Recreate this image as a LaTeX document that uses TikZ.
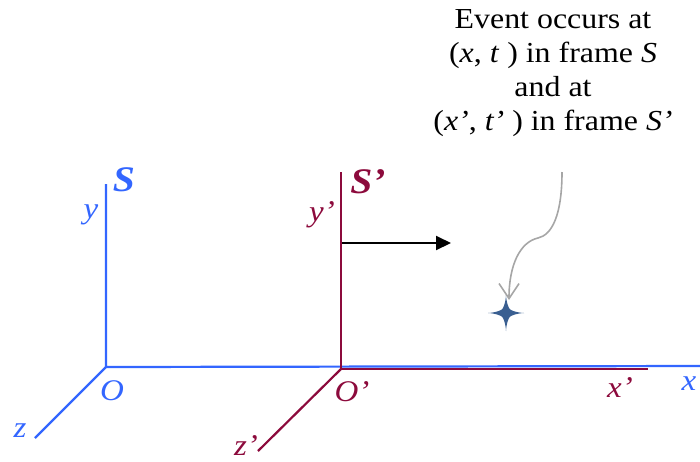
\documentclass[tikz,border=0pt]{standalone}
\usepackage{fontspec}
\setmainfont{Liberation Serif}[FakeStretch=1.1]
\usetikzlibrary{arrows.meta}
\definecolor{sblue}{RGB}{51,102,255}
\definecolor{sred}{RGB}{140,10,60}
\definecolor{starc}{RGB}{58,95,145}
\definecolor{gcurve}{RGB}{166,166,166}
\begin{document}
\begin{tikzpicture}[x=1pt,y=-1pt,
  lbl/.style={inner sep=0pt,font=\fontsize{30}{34}\selectfont\itshape},
  blbl/.style={lbl,text=sblue},
  rlbl/.style={lbl,text=sred},
  ttl/.style={inner sep=0pt,font=\fontsize{36}{40}\selectfont\bfseries\itshape},
  baxis/.style={draw=sblue,line width=2.2pt},
  raxis/.style={draw=sred,line width=2.2pt}]
\useasboundingbox (0,0) rectangle (700,461);
% S frame
\coordinate (O) at (106,367);
\coordinate (yend) at (106,184);
\coordinate (xend) at (700,366);
\coordinate (zend) at (35,438);
\draw[baxis] (yend) -- (O) -- (xend);
\draw[baxis] (O) -- (zend);
% S' frame
\coordinate (O2) at (341,369);
\coordinate (y2end) at (341,172);
\coordinate (x2end) at (648,369);
\coordinate (z2end) at (258,451);
\draw[raxis] (y2end) -- (O2) -- (x2end);
\draw[raxis] (O2) -- (z2end);
% labels
\node[ttl,text=sblue] (S) at (124,180) {S};
\node[blbl] (ylab) at (91,215) {y};
\node[blbl] (Olab) at (112,391) {O};
\node[blbl] (zlab) at (20,431) {z};
\node[blbl] (xlab) at (689,384) {x};
\node[ttl,text=sred] (S2) at (368,182) {S’};
\node[rlbl] (y2lab) at (322,215) {y’};
\node[rlbl] (O2lab) at (352,392) {O’};
\node[rlbl] (x2lab) at (620,388) {x’};
\node[rlbl] (z2lab) at (246,446) {z’};
% velocity arrow
\coordinate (va) at (342,243);
\coordinate (vb) at (451,243);
\draw[line width=2pt,-{Triangle[length=15pt,width=14pt]}] (va) -- (vb);
% event text
\node[inner sep=0pt,align=center,font=\fontsize{29}{34}\selectfont] (ev) at (553,73)
  {Event occurs at\\(\textit{x}, \textit{t} ) in frame \textit{S}\\and at\\(\textit{x’}, \textit{t’} ) in frame \textit{S’}};
% star
\node[inner sep=0pt,minimum size=0pt] (star) at (506,313) {};
\begin{scope}[shift={(star.center)}]
\fill[starc] (0,-18) .. controls (0.5,-10) and (2.3,-6) .. (3.8,-3.8)
  .. controls (6,-2.3) and (10,-0.5) .. (18,0)
  .. controls (10,0.5) and (6,2.3) .. (3.8,3.8)
  .. controls (2.3,6) and (0.5,10) .. (0,18)
  .. controls (-0.5,10) and (-2.3,6) .. (-3.8,3.8)
  .. controls (-6,2.3) and (-10,0.5) .. (-18,0)
  .. controls (-10,-0.5) and (-6,-2.3) .. (-3.8,-3.8)
  .. controls (-2.3,-6) and (-0.5,-10) .. cycle;
\end{scope}
% curved arrow
\coordinate (cstart) at (562,172);
\coordinate (ctip) at (509,300);
\draw[gcurve,line width=1.6pt,-{Straight Barb[length=15pt,width=20pt,line width=1.6pt]}]
  (cstart) .. controls (562,215) and (552,235) .. (538,238)
  .. controls (520,242) and (509,265) .. (ctip);
\end{tikzpicture}
\end{document}
